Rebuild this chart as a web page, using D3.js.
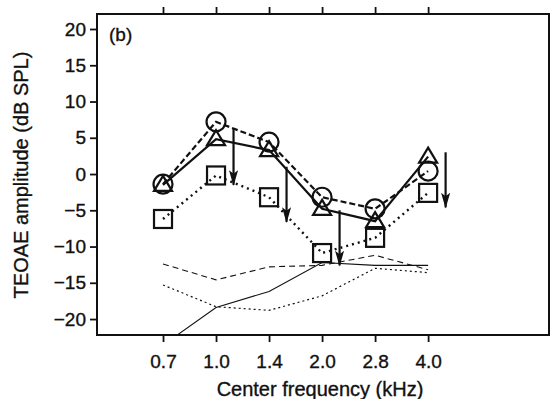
<!DOCTYPE html>
<html>
<head>
<meta charset="utf-8">
<script src="https://cdn.jsdelivr.net/npm/d3@7"></script>
<style>
  body { margin: 0; background: #fff; }
  svg { display: block; }
  text { font-family: "Liberation Sans", Arial, Helvetica, sans-serif; fill: #111; stroke: #111; stroke-width: 0.35px; }
</style>
</head>
<body>
<div id="chart"></div>
<script>
// center frequencies (kHz), evenly spaced on the axis
var freqLabels = ["0.7", "1.0", "1.4", "2.0", "2.8", "4.0"];

// TEOAE amplitudes (dB SPL)
var circleVals = [-1.4, 7.2, 4.4, -3.2, -4.8, 0.4];
var triangleVals = [-1.5, 4.8, 3.3, -4.8, -6.5, 2.4];
var squareVals = [-6.2, -0.2, -3.2, -10.9, -8.8, -2.6];

// noise floors
var noiseDashed = [-12.4, -14.6, -12.8, -12.6, -11.2, -13.2];
var noiseDotted = [-15.3, -18.3, -18.8, -16.8, -13.0, -13.6];
var noiseSolid = [-23.6, -18.4, -16.2, -12.2, -12.6, -12.6];

// downward arrows (frequency index, top, bottom)
var arrowIdx = [1, 2, 3, 5];
var arrowTop = [6.3, 1.0, -5.0, 3.0];
var arrowBottom = [-1.5, -6.6, -12.6, -4.6];

var yTicks = [-20, -15, -10, -5, 0, 5, 10, 15, 20];

var width = 551, height = 399;
var mLeft = 97, mRight = 549, mTop = 14, mBottom = 335;

var svg = d3.select("#chart").append("svg")
  .attr("width", width)
  .attr("height", height);

var x = d3.scaleLinear().domain([-1.245, 7.28]).range([mLeft, mRight]);
var y = d3.scaleLinear().domain([-22.2, 22.07]).range([mBottom, mTop]);

var defs = svg.append("defs");
defs.append("clipPath").attr("id", "plotclip")
  .append("rect")
  .attr("x", mLeft).attr("y", mTop)
  .attr("width", mRight - mLeft).attr("height", mBottom - mTop);

defs.append("marker")
  .attr("id", "arrow")
  .attr("viewBox", "0 -4 14 8")
  .attr("refX", 13)
  .attr("refY", 0)
  .attr("markerUnits", "userSpaceOnUse")
  .attr("markerWidth", 16)
  .attr("markerHeight", 9)
  .attr("orient", "auto")
  .append("path")
  .attr("d", "M0,-4L14,0L0,4L3,0Z")
  .attr("fill", "#111");

// axes
var yAxis = d3.axisLeft(y).tickValues(yTicks).tickSize(7).tickPadding(4)
  .tickFormat(function (d) { return d < 0 ? "\u2212" + Math.abs(d) : d; });
var gy = svg.append("g").attr("transform", "translate(" + mLeft + ",0)").call(yAxis);

var xAxis = d3.axisBottom(x).tickValues(d3.range(freqLabels.length)).tickSize(7).tickPadding(13)
  .tickFormat(function (d) { return freqLabels[d]; });
var gx = svg.append("g").attr("transform", "translate(0," + mBottom + ")").call(xAxis);

var xTop = d3.axisTop(x).tickValues(d3.range(freqLabels.length)).tickSize(7).tickFormat("");
var gt = svg.append("g").attr("transform", "translate(0," + mTop + ")").call(xTop);

[gy, gx, gt].forEach(function (g) {
  g.select(".domain").remove();
  g.selectAll(".tick line").attr("stroke", "#111").attr("stroke-width", 1.8);
  g.selectAll(".tick text")
    .style("font-size", "19px")
    .style("font-family", "'Liberation Sans', Arial, sans-serif")
    .attr("fill", "#111");
});

// frame
svg.append("rect")
  .attr("x", mLeft).attr("y", mTop)
  .attr("width", mRight - mLeft).attr("height", mBottom - mTop)
  .attr("fill", "none")
  .attr("stroke", "#111")
  .attr("stroke-width", 2);

var plot = svg.append("g").attr("clip-path", "url(#plotclip)");

var line = d3.line()
  .x(function (d, i) { return x(i); })
  .y(function (d) { return y(d); });

// thin noise lines
plot.append("path").datum(noiseDashed).attr("d", line)
  .attr("fill", "none").attr("stroke", "#111").attr("stroke-width", 1.1)
  .attr("stroke-dasharray", "6,4");
plot.append("path").datum(noiseDotted).attr("d", line)
  .attr("fill", "none").attr("stroke", "#111").attr("stroke-width", 1.2)
  .attr("stroke-dasharray", "2,3");
plot.append("path").datum(noiseSolid).attr("d", line)
  .attr("fill", "none").attr("stroke", "#111").attr("stroke-width", 1.1);

// thick data lines
plot.append("path").datum(circleVals).attr("d", line)
  .attr("fill", "none").attr("stroke", "#111").attr("stroke-width", 2.2)
  .attr("stroke-dasharray", "6,3");
plot.append("path").datum(triangleVals).attr("d", line)
  .attr("fill", "none").attr("stroke", "#111").attr("stroke-width", 2.2);
plot.append("path").datum(squareVals).attr("d", line)
  .attr("fill", "none").attr("stroke", "#111").attr("stroke-width", 2.4)
  .attr("stroke-dasharray", "2,4");

// markers
var r = 9.5;
plot.selectAll(".circ").data(circleVals).enter().append("circle")
  .attr("class", "circ")
  .attr("cx", function (d, i) { return x(i); })
  .attr("cy", function (d) { return y(d); })
  .attr("r", r)
  .attr("fill", "none").attr("stroke", "#111").attr("stroke-width", 2.2);

plot.selectAll(".tri").data(triangleVals).enter().append("path")
  .attr("class", "tri")
  .attr("d", function (d, i) {
    var cx = x(i), cy = y(d);
    return "M" + cx + "," + (cy - 9) + "L" + (cx + 9) + "," + (cy + 6) + "L" + (cx - 9) + "," + (cy + 6) + "Z";
  })
  .attr("fill", "none").attr("stroke", "#111").attr("stroke-width", 2.2);

plot.selectAll(".sq").data(squareVals).enter().append("rect")
  .attr("class", "sq")
  .attr("x", function (d, i) { return x(i) - 9; })
  .attr("y", function (d) { return y(d) - 9; })
  .attr("width", 18).attr("height", 18)
  .attr("fill", "none").attr("stroke", "#111").attr("stroke-width", 2.2);

// arrows
plot.selectAll(".arr").data(arrowIdx).enter().append("line")
  .attr("class", "arr")
  .attr("x1", function (d) { return x(d + 0.33); })
  .attr("x2", function (d) { return x(d + 0.33); })
  .attr("y1", function (d, i) { return y(arrowTop[i]); })
  .attr("y2", function (d, i) { return y(arrowBottom[i]); })
  .attr("stroke", "#111").attr("stroke-width", 2.2)
  .attr("marker-end", "url(#arrow)");

// panel label
svg.append("text")
  .attr("x", 109).attr("y", 41)
  .style("font-size", "19px")
  .text("(b)");

// axis titles
svg.append("text")
  .attr("x", 320).attr("y", 396)
  .attr("text-anchor", "middle")
  .style("font-size", "20px")
  .text("Center frequency (kHz)");

svg.append("text")
  .attr("transform", "translate(28,175) rotate(-90)")
  .attr("text-anchor", "middle")
  .style("font-size", "20px")
  .text("TEOAE amplitude (dB SPL)");
</script>
</body>
</html>
